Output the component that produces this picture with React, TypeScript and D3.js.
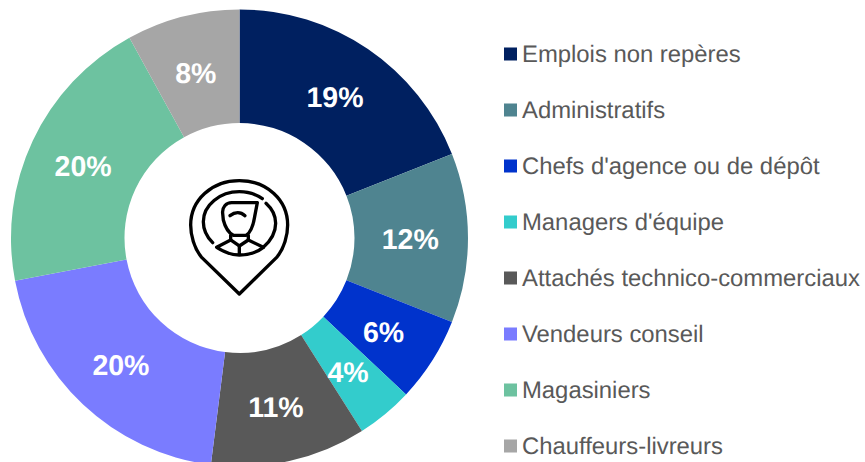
import React from "react";
import * as d3 from "d3";

const categories = ["Emplois non repères", "Administratifs", "Chefs d'agence ou de dépôt", "Managers d'équipe", "Attachés technico-commerciaux", "Vendeurs conseil", "Magasiniers", "Chauffeurs-livreurs"];
const values = [19, 12, 6, 4, 11, 20, 20, 8];
const colors = ["#002060", "#4F8490", "#0033CC", "#33CCCC", "#595959", "#7A7CFF", "#6DC2A0", "#A6A6A6"];

const W = 865, H = 462, CX = 239.5, CY = 238, R = 228.5, r0 = 115;

export default function App() {
  const pie = d3.pie<number>().sort(null)(values);
  const arc = d3.arc<d3.PieArcDatum<number>>().innerRadius(r0).outerRadius(R);
  const legendY = d3.scalePoint<string>().domain(categories).range([53.5, 445.5]);
  return (
    <svg width={W} height={H} viewBox={`0 0 ${W} ${H}`} textRendering="geometricPrecision" style={{ position: "absolute", left: 0, top: 0, display: "block", background: "#fff" }}>
      <g transform={`translate(${CX},${CY})`}>
        {pie.map((d, i) => <path key={i} d={arc(d)!} fill={colors[i]} />)}
        {pie.map((d, i) => {
          const [x, y] = arc.centroid(d);
          return <text key={i} x={x - 1} y={y + 1.5} dy="0.35em" textAnchor="middle" fontFamily="'Liberation Sans', Arial, sans-serif" fontWeight="bold" fontSize={28.5} fill="#fff">{d.value}%</text>;
        })}
      </g>
      <g transform="translate(170,160) scale(0.3333)" fill="none" stroke="#000" strokeWidth={10} strokeLinecap="round" strokeLinejoin="round">
        <path d="M208 402 L95 292 C72 265 62 225 62 195 C62 120 125 62 208 62 C291 62 353 120 353 195 C353 225 343 265 320 292 Z" />
        <path d="M128 248 C108 228 100 205 100 185 C100 135 150 95 208 95 C235 95 258 103 277 116" />
        <path d="M288 130 C308 148 317 170 317 190 C317 215 305 240 280 262" />
        <path d="M262 128 L185 128 C168 128 156 142 158 160 L160 180 C165 200 175 218 190 226 L228 226 C242 218 250 195 254 170 Z" />
        <path d="M180 167 C195 155 212 155 225 167" />
        <path d="M182 226 L182 240 L208 258 L235 240 L235 226" />
        <path d="M182 240 L140 262 C165 278 185 285 208 285 C235 285 260 278 280 262 L235 240" />
        <path d="M208 258 L208 282" />
      </g>
      <g>
        {categories.map((c, i) => {
          const y = legendY(c)!;
          return (
            <g key={c}>
              <rect x={504} y={y - 6} width={13} height={13} fill={colors[i]} />
              <text x={522} y={y} dy="0.35em" fontFamily="'Liberation Sans', Arial, sans-serif" fontSize={23.85} fill="#595959">{c}</text>
            </g>
          );
        })}
      </g>
    </svg>
  );
}
